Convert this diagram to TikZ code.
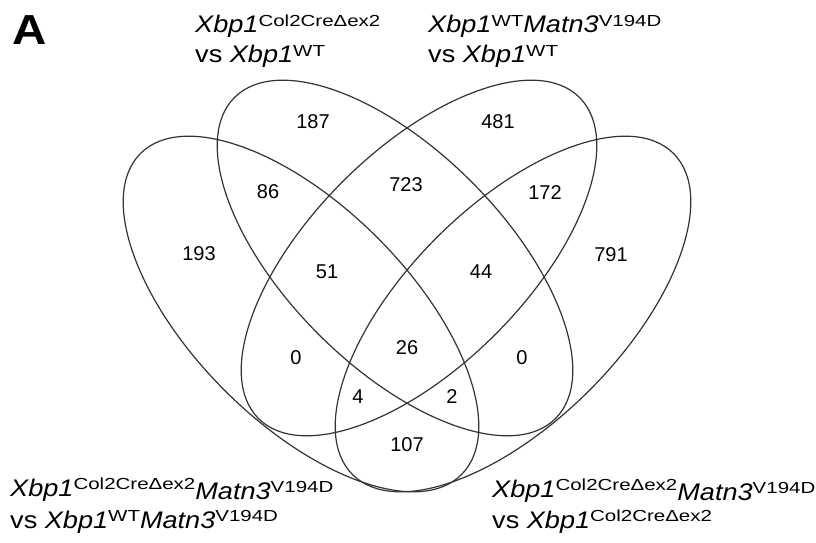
\documentclass[tikz,border=0pt]{standalone}
\usepackage{fontspec}
\setmainfont{Liberation Sans}
\newfontfamily\mainf[FakeStretch=1.13]{Liberation Sans}
\newfontfamily\supf[FakeStretch=1.28]{Liberation Sans}
\newcommand{\gn}[1]{\textit{#1}}
\newcommand{\sps}[1]{\raisebox{6.5pt}{\supf\fontsize{16}{16}\selectfont #1}}
\newcommand{\low}[1]{\raisebox{-3pt}{#1}}
\begin{document}
\begin{tikzpicture}[x=1pt,y=1pt,
  venn/.style={draw=black!80, line width=1.2pt},
  lab/.style={font=\mainf\fontsize{24}{28}\selectfont, inner sep=0pt, anchor=base west},
  num/.style={font=\fontsize{20}{24}\selectfont, inner sep=0pt}]
\useasboundingbox (0,0) rectangle (816,542);
\fill[white] (0,0) rectangle (816,542);
% ellipses
\draw[venn, rotate around={-45:(301,228)}] (301,228) ellipse [x radius=227pt, y radius=108pt];
\draw[venn, rotate around={-45:(395,284)}] (395,284) ellipse [x radius=227pt, y radius=108pt];
\draw[venn, rotate around={45:(419,284)}] (419,284) ellipse [x radius=227pt, y radius=108pt];
\draw[venn, rotate around={45:(513,228)}] (513,228) ellipse [x radius=227pt, y radius=108pt];
% panel letter
\node[font=\mainf\bfseries\fontsize{42}{46}\selectfont, inner sep=0pt, anchor=base west] (pA) at (12,497) {A};
% set labels
\node[lab] (tl1) at (195,509) {\gn{Xbp1}\sps{Col2CreΔex2}};
\node[lab] (tl2) at (195,479) {vs \gn{Xbp1}\sps{WT}};
\node[lab] (tr1) at (428,509) {\gn{Xbp1}\sps{WT}\gn{Matn3}\sps{V194D}};
\node[lab] (tr2) at (428,479) {vs \gn{Xbp1}\sps{WT}};
\node[lab] (bl1) at (10,46) {\gn{Xbp1}\sps{Col2CreΔex2}\low{\gn{Matn3}\sps{V194D}}};
\node[lab] (bl2) at (10,14) {vs \gn{Xbp1}\sps{WT}\gn{Matn3}\sps{V194D}};
\node[lab] (br1) at (492,45) {\gn{Xbp1}\sps{Col2CreΔex2}\low{\gn{Matn3}\sps{V194D}}};
\node[lab] (br2) at (492,14) {vs \gn{Xbp1}\sps{Col2CreΔex2}};
% counts
\node[num] (n187) at (313,420) {187};
\node[num] (n481) at (498,420) {481};
\node[num] (n86)  at (268,350) {86};
\node[num] (n723) at (406,357) {723};
\node[num] (n172) at (545,349) {172};
\node[num] (n193) at (199,288) {193};
\node[num] (n791) at (611,287) {791};
\node[num] (n51)  at (327,270) {51};
\node[num] (n44)  at (481,270) {44};
\node[num] (n0a)  at (296,184) {0};
\node[num] (n26)  at (407,194) {26};
\node[num] (n0b)  at (522,184) {0};
\node[num] (n4)   at (358,145) {4};
\node[num] (n2)   at (452,145) {2};
\node[num] (n107) at (407,97) {107};
\end{tikzpicture}
\end{document}
